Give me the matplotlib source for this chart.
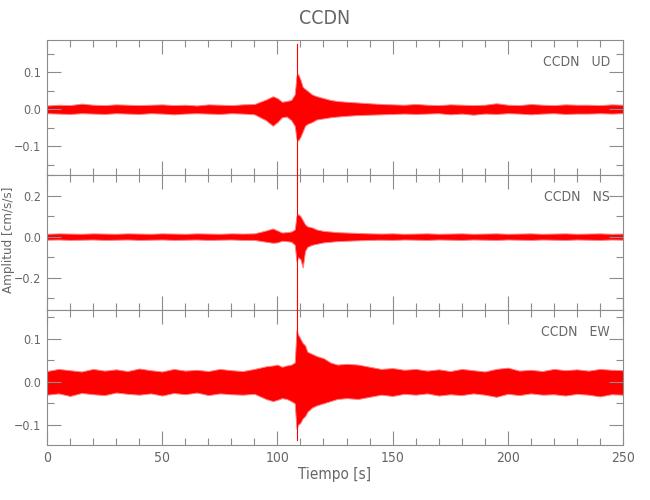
import numpy as np
import matplotlib
matplotlib.use('Agg')
import matplotlib.pyplot as plt
from matplotlib.ticker import MultipleLocator

plt.rcParams['font.family'] = ['DejaVu Sans']
plt.rcParams['font.stretch'] = 'condensed'

t_knots = [0, 5, 10, 15, 20, 25, 30, 35, 40, 45, 50, 55, 60, 65, 70, 75, 80, 85, 90,
           95, 98, 100, 102, 104, 106, 107.5, 108.3, 109, 110, 111, 112, 113, 115, 117,
           120, 123, 126, 130, 135, 140, 145, 150, 155, 160, 165, 170, 175, 180, 185,
           190, 195, 200, 205, 210, 215, 220, 225, 230, 235, 240, 245, 250]

# UD component envelope (cm/s/s)
ud_hi = [0.010, 0.012, 0.011, 0.015, 0.012, 0.011, 0.013, 0.012, 0.011, 0.012, 0.013, 0.011,
         0.012, 0.010, 0.013, 0.012, 0.011, 0.013, 0.014,
         0.026, 0.035, 0.030, 0.020, 0.022, 0.025, 0.040, 0.090, 0.095, 0.080, 0.060, 0.055,
         0.050, 0.040, 0.035,
         0.030, 0.025, 0.022, 0.020, 0.018, 0.016, 0.014, 0.013, 0.012, 0.014, 0.012, 0.011,
         0.013, 0.012, 0.011,
         0.012, 0.016, 0.012, 0.011, 0.014, 0.012, 0.011, 0.013, 0.012, 0.012, 0.011, 0.013, 0.012]
ud_lo = [-0.011, -0.012, -0.013, -0.011, -0.012, -0.013, -0.011, -0.012, -0.013, -0.011, -0.012, -0.014,
         -0.012, -0.011, -0.012, -0.013, -0.011, -0.012, -0.014,
         -0.030, -0.045, -0.035, -0.022, -0.020, -0.030, -0.045, -0.080, -0.085, -0.075, -0.060, -0.045,
         -0.040, -0.035, -0.028,
         -0.025, -0.022, -0.020, -0.018, -0.016, -0.015, -0.014, -0.013, -0.012, -0.013, -0.012, -0.011,
         -0.014, -0.012, -0.015,
         -0.012, -0.013, -0.011, -0.012, -0.014, -0.012, -0.011, -0.013, -0.012, -0.012, -0.011, -0.012, -0.011]

# NS component envelope
ns_hi = [0.014, 0.016, 0.015, 0.014, 0.016, 0.015, 0.014, 0.016, 0.015, 0.014, 0.016, 0.015,
         0.014, 0.016, 0.015, 0.014, 0.016, 0.015, 0.016,
         0.030, 0.040, 0.030, 0.020, 0.022, 0.025, 0.035, 0.100, 0.110, 0.100, 0.080, 0.060,
         0.050, 0.045, 0.035,
         0.028, 0.025, 0.022, 0.020, 0.018, 0.016, 0.015, 0.016, 0.014, 0.015, 0.016, 0.014,
         0.015, 0.016, 0.014,
         0.015, 0.016, 0.014, 0.015, 0.016, 0.014, 0.015, 0.016, 0.014, 0.015, 0.016, 0.014, 0.015]
ns_lo = [-0.015, -0.014, -0.016, -0.015, -0.014, -0.016, -0.015, -0.014, -0.016, -0.015, -0.014, -0.016,
         -0.015, -0.014, -0.016, -0.015, -0.014, -0.016, -0.016,
         -0.025, -0.030, -0.028, -0.020, -0.022, -0.025, -0.040, -0.120, -0.100, -0.110, -0.150, -0.070,
         -0.050, -0.040, -0.035,
         -0.028, -0.025, -0.022, -0.020, -0.018, -0.016, -0.015, -0.016, -0.014, -0.015, -0.016, -0.014,
         -0.015, -0.016, -0.014,
         -0.015, -0.016, -0.014, -0.015, -0.016, -0.014, -0.015, -0.016, -0.014, -0.015, -0.016, -0.014, -0.015]

# EW component envelope
ew_hi = [0.025, 0.030, 0.027, 0.024, 0.030, 0.026, 0.029, 0.025, 0.031, 0.027, 0.024, 0.030,
         0.026, 0.028, 0.025, 0.030, 0.027, 0.025, 0.030,
         0.036, 0.038, 0.040, 0.035, 0.038, 0.040, 0.045, 0.120, 0.110, 0.100, 0.090, 0.085,
         0.070, 0.065, 0.060,
         0.055, 0.045, 0.040, 0.042, 0.040, 0.035, 0.030, 0.032, 0.028, 0.030, 0.026, 0.029,
         0.025, 0.030, 0.027,
         0.024, 0.030, 0.033, 0.026, 0.028, 0.025, 0.030, 0.027, 0.029, 0.026, 0.030, 0.028, 0.027]
ew_lo = [-0.030, -0.027, -0.033, -0.026, -0.029, -0.031, -0.025, -0.028, -0.030, -0.027, -0.032, -0.026,
         -0.029, -0.025, -0.031, -0.027, -0.029, -0.030, -0.028,
         -0.040, -0.045, -0.042, -0.038, -0.040, -0.045, -0.050, -0.110, -0.100, -0.095, -0.085, -0.080,
         -0.070, -0.060, -0.055,
         -0.050, -0.045, -0.040, -0.038, -0.040, -0.035, -0.030, -0.033, -0.028, -0.030, -0.027, -0.032,
         -0.029, -0.031, -0.027,
         -0.030, -0.035, -0.028, -0.031, -0.027, -0.030, -0.029, -0.032, -0.028, -0.030, -0.034, -0.029, -0.030]

# the single strong arrival, drawn as a spike
spike_t = 108.5
spike_hi = {'UD': 0.175, 'NS': 0.33, 'EW': 0.19}
spike_lo = {'UD': -0.165, 'NS': -0.335, 'EW': -0.135}

components = ['UD', 'NS', 'EW']
envelopes = {'UD': (ud_hi, ud_lo), 'NS': (ns_hi, ns_lo), 'EW': (ew_hi, ew_lo)}
ylims = {'UD': (-0.178, 0.187), 'NS': (-0.357, 0.30), 'EW': (-0.147, 0.167)}
ymajor = {'UD': 0.1, 'NS': 0.2, 'EW': 0.1}

axcol = '#8c8c8c'
txtcol = '#666666'


def fmt(v, pos):
    if abs(v) < 1e-9:
        return '0.0'
    return ('%.1f' % v).replace('-', '\u2212')


fig = plt.figure(figsize=(6.5, 5.0), dpi=100)
left, width = 47 / 650, 576 / 650
tops = [40, 175, 310]
panel_h = 135

for i, comp in enumerate(components):
    bottom = 1 - (tops[i] + panel_h) / 500
    ax = fig.add_axes([left, bottom, width, panel_h / 500])
    hi, lo = envelopes[comp]
    t = np.array(t_knots)
    ax.fill_between(t, lo, hi, color='#ff0000', lw=0.7, edgecolor='#ff8080')
    ax.plot([spike_t, spike_t], [spike_lo[comp], spike_hi[comp]], color='#ff0000',
            lw=0.8, clip_on=False, zorder=3)

    ax.set_xlim(0, 250)
    ax.set_ylim(*ylims[comp])
    ax.xaxis.set_major_locator(MultipleLocator(50))
    ax.xaxis.set_minor_locator(MultipleLocator(10))
    ax.yaxis.set_major_locator(MultipleLocator(ymajor[comp]))
    ax.yaxis.set_minor_locator(MultipleLocator(ymajor[comp] / 2))
    ax.tick_params(which='both', direction='in', top=True, right=True, colors=axcol,
                   labelcolor=txtcol, labelsize=9, width=0.8)
    ax.tick_params(which='major', length=10, pad=4)
    ax.tick_params(which='minor', length=5)
    for s in ax.spines.values():
        s.set_color(axcol)
        s.set_linewidth(0.8)
    ax.yaxis.set_major_formatter(plt.FuncFormatter(fmt))
    if i < 2:
        ax.tick_params(labelbottom=False)
    else:
        ax.tick_params(axis='x', labelsize=10)
        ax.set_xlabel('Tiempo [s]', color=txtcol, fontsize=11, labelpad=2)
    ax.text(0.977, 0.84, 'CCDN   ' + comp, transform=ax.transAxes, ha='right', va='center',
            color=txtcol, fontsize=10)

fig.text(9 / 650, 1 - 240 / 500, 'Amplitud [cm/s/s]', rotation=90, ha='center', va='center',
         color=txtcol, fontsize=9.5)
fig.text(0.5, 1 - 18 / 500, 'CCDN', ha='center', va='center', color=txtcol, fontsize=14)

fig.savefig('out.png', dpi=100)
